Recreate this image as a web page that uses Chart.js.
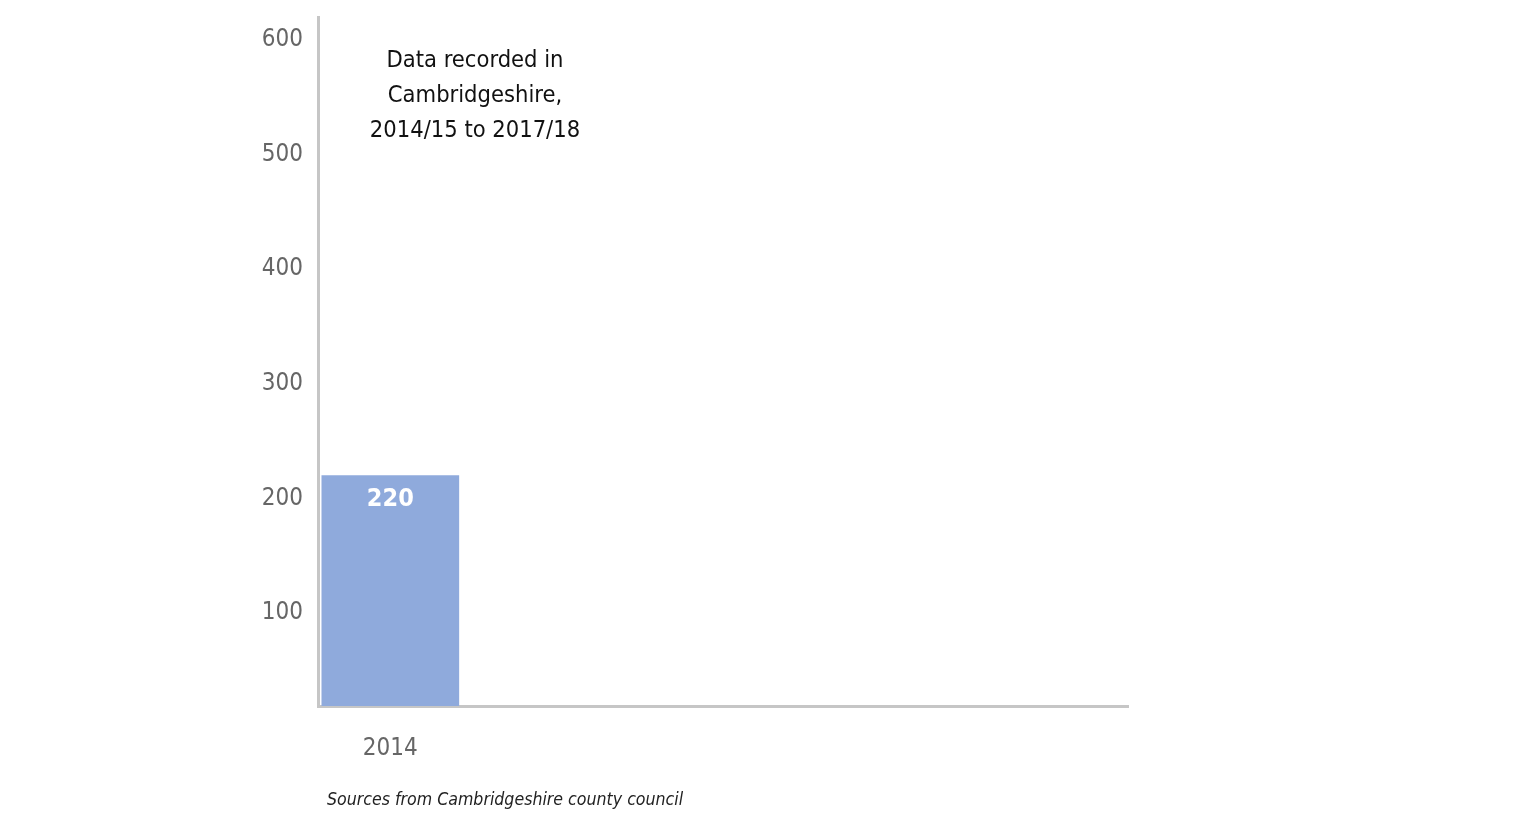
<!DOCTYPE html>
<html>
<head>
<meta charset="utf-8">
<script src="https://cdn.jsdelivr.net/npm/chart.js@4/dist/chart.umd.min.js"></script>
<style>
	html, body { margin: 0; padding: 0; background: #fff; }
	#wrap { position: relative; width: 1522px; height: 839px; }
	.note {
		position: absolute;
		font-family: "Liberation Sans Narrow", "DejaVu Sans Condensed", sans-serif;
		color: #111;
	}
	#title { left: 325px; top: 42px; width: 300px; text-align: center; font-size: 23.5px; line-height: 35px; }
	#source { left: 327px; top: 789px; font-size: 17.6px; font-style: italic; color: #222; }
</style>
</head>
<body>
<div id="wrap">
	<canvas id="chart" width="1522" height="839"></canvas>
	<div class="note" id="title">Data recorded in<br>Cambridgeshire,<br>2014/15 to 2017/18</div>
	<div class="note" id="source">Sources from Cambridgeshire county council</div>
</div>
<script>
const years = [2014];
const counts = [220];
const yTicks = [100, 200, 300, 400, 500, 600];

const FONT = '"Liberation Sans Narrow", "DejaVu Sans Condensed", sans-serif';

// white value label near the top of each bar
const valueLabels = {
	id: 'valueLabels',
	afterDatasetsDraw(chart){
		const ctx = chart.ctx;
		const meta = chart.getDatasetMeta(0);
		ctx.save();
		ctx.fillStyle = '#fff';
		ctx.font = 'bold 25px ' + FONT;
		ctx.textAlign = 'center';
		ctx.textBaseline = 'middle';
		meta.data.forEach((bar, i) => {
			ctx.fillText(String(counts[i]), bar.x, bar.y + 24);
		});
		ctx.restore();
	}
};

new Chart(document.getElementById('chart'), {
	type: 'bar',
	data: {
		datasets: [{
			data: years.map((y, i) => ({ x: y, y: counts[i] })),
			backgroundColor: '#8faadc',
			borderWidth: 0,
			barThickness: 137
		}]
	},
	options: {
		responsive: false,
		animation: false,
		layout: { padding: { top: 17, right: 394, bottom: 0, left: 0 } },
		plugins: {
			legend: { display: false },
			tooltip: { enabled: false }
		},
		scales: {
			x: {
				type: 'linear',
				offset: false,
				min: 2013.5,
				max: 2019.1,
				afterBuildTicks: s => { s.ticks = years.map(v => ({ value: v })); },
				afterFit: s => { s.height = 133; s.paddingLeft = 0; s.paddingRight = 0; },
				grid: { display: false, drawTicks: false },
				border: { display: true, color: '#c6c6c6', width: 3 },
				ticks: {
					padding: 28,
					color: '#666',
					font: { family: FONT, size: 24 },
					callback: v => String(v)
				}
			},
			y: {
				min: 19,
				max: 620,
				afterBuildTicks: s => { s.ticks = yTicks.map(v => ({ value: v })); },
				afterFit: s => { s.width = 318; s.paddingTop = 0; s.paddingBottom = 0; },
				grid: { display: false, drawTicks: false },
				border: { display: true, color: '#c6c6c6', width: 3 },
				ticks: {
					padding: 15,
					color: '#666',
					font: { family: FONT, size: 24 }
				}
			}
		}
	},
	plugins: [valueLabels]
});
</script>
</body>
</html>
